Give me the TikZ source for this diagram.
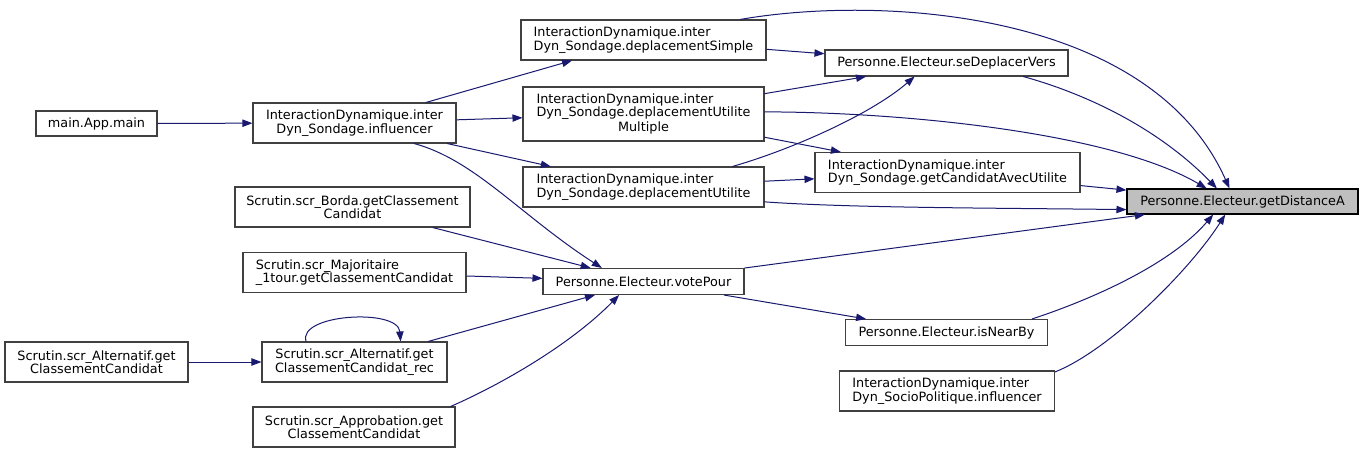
\documentclass[tikz,border=0pt]{standalone}
\usepackage{fontspec}
\setmainfont{DejaVu Sans}
\usepackage{tikz}
\usetikzlibrary{arrows.meta}
\definecolor{edgeblue}{RGB}{25, 25, 112}
\definecolor{boxgrey}{RGB}{64, 64, 64}
\definecolor{focusgrey}{RGB}{191, 191, 191}

\begin{document}
\begin{tikzpicture}[
    x=0.75pt, y=-0.75pt,
    fn/.style={draw=boxgrey, fill=white, line width=0.8pt, inner sep=0pt,
               font=\fontsize{9.6}{10}\selectfont, align=center},
    fnl/.style={fn, align=left},
    boxsize/.style 2 args={minimum width=#1*0.75pt, minimum height=#2*0.75pt},
    call/.style={-{Triangle[length=7.5pt, width=5.5pt]}, edgeblue, line width=0.75pt}
]
    \path[use as bounding box, fill=white] (0,0) rectangle (1363,453);

    \node[fn, boxsize={121}{25}] (main) at (96.5,123.5) {main.App.main};
    \node[fn, boxsize={203}{40}] (infl) at (354.5,123) {InteractionDynamique.inter\\Dyn\_Sondage.influencer};
    \node[fnl, boxsize={245}{40}] (simple) at (643.5,40) {InteractionDynamique.inter\\Dyn\_Sondage.deplacementSimple};
    \node[fn, boxsize={241}{54}] (multiple) at (643.5,114) {\begin{tabular}{@{}l@{}}InteractionDynamique.inter\\Dyn\_Sondage.deplacementUtilite\end{tabular}\\Multiple};
    \node[fnl, boxsize={241}{40}] (utilite) at (643.5,187) {InteractionDynamique.inter\\Dyn\_Sondage.deplacementUtilite};
    \node[fn, boxsize={243}{26}] (deplacer) at (946.5,63) {Personne.Electeur.seDeplacerVers};
    \node[fnl, boxsize={265}{40}] (candidat) at (947.5,172.5) {InteractionDynamique.inter\\Dyn\_Sondage.getCandidatAvecUtilite};
    \node[fn, draw=black, fill=focusgrey, boxsize={231}{25}] (distance) at (1242.5,201.5) {Personne.Electeur.getDistanceA};
    \node[fn, boxsize={235}{40}] (borda) at (352.5,207) {Scrutin.scr\_Borda.getClassement\\Candidat};
    \node[fnl, boxsize={223}{40}] (majo) at (354.5,272.5) {Scrutin.scr\_Majoritaire\\\_1tour.getClassementCandidat};
    \node[fn, boxsize={201}{26}] (vote) at (643.5,281.5) {Personne.Electeur.votePour};
    \node[fn, boxsize={183}{40}] (alt) at (96.5,362) {Scrutin.scr\_Alternatif.get\\ClassementCandidat};
    \node[fn, boxsize={185}{40}] (altrec) at (354.5,362) {Scrutin.scr\_Alternatif.get\\ClassementCandidat\_rec};
    \node[fn, boxsize={202}{40}] (approb) at (354,427) {Scrutin.scr\_Approbation.get\\ClassementCandidat};
    \node[fn, boxsize={202}{26}] (nearby) at (946.5,332.5) {Personne.Electeur.isNearBy};
    \node[fnl, boxsize={215}{40}] (socio) at (947,391) {InteractionDynamique.inter\\Dyn\_SocioPolitique.influencer};

    % callers of influencer and its children
    \draw[call] (main) -- (infl);
    \draw[call] (infl) -- (simple);
    \draw[call] (infl) -- (multiple);
    \draw[call] (infl) -- (utilite);
    \draw[call] (infl.341) .. controls (475,160) and (520,215) .. (vote.162);
    \draw[call] (simple) -- (deplacer);
    \draw[call] (simple.12.6) .. controls (880,-5) and (1150,10) .. (distance.135);
    \draw[call] (multiple) -- (deplacer);
    \draw[call] (multiple.1.4) .. controls (900,112) and (1110,132) .. (distance.160.6);
    \draw[call] (multiple) -- (candidat);
    \draw[call] (utilite.13.5) .. controls (790,150) and (870,115) .. (deplacer.203);
    \draw[call] (utilite) -- (candidat);
    \draw[call] (utilite.353.4) .. controls (850,208) and (1000,208) .. (distance.184);
    \draw[call] (deplacer.350) .. controls (1090,95) and (1160,130) .. (distance.153);
    \draw[call] (candidat) -- (distance);

    % votePour side
    \draw[call] (vote) -- (distance);
    \draw[call] (vote) -- (nearby);
    \draw[call] (nearby.9.9) .. controls (1090,300) and (1170,265) .. (distance.204.4);
    \draw[call] (socio.10.8) .. controls (1110,350) and (1190,270) .. (distance.217);
    \draw[call] (borda) -- (vote);
    \draw[call] (majo) -- (vote);
    \draw[call] (altrec) -- (vote);
    \draw[call] (approb.12.7) .. controls (500,385) and (570,345) .. (vote.209);
    \draw[call] (alt) -- (altrec);
    \draw[call] (altrec.157) .. controls (297,314) and (398,308) .. (altrec.24);
\end{tikzpicture}
\end{document}
